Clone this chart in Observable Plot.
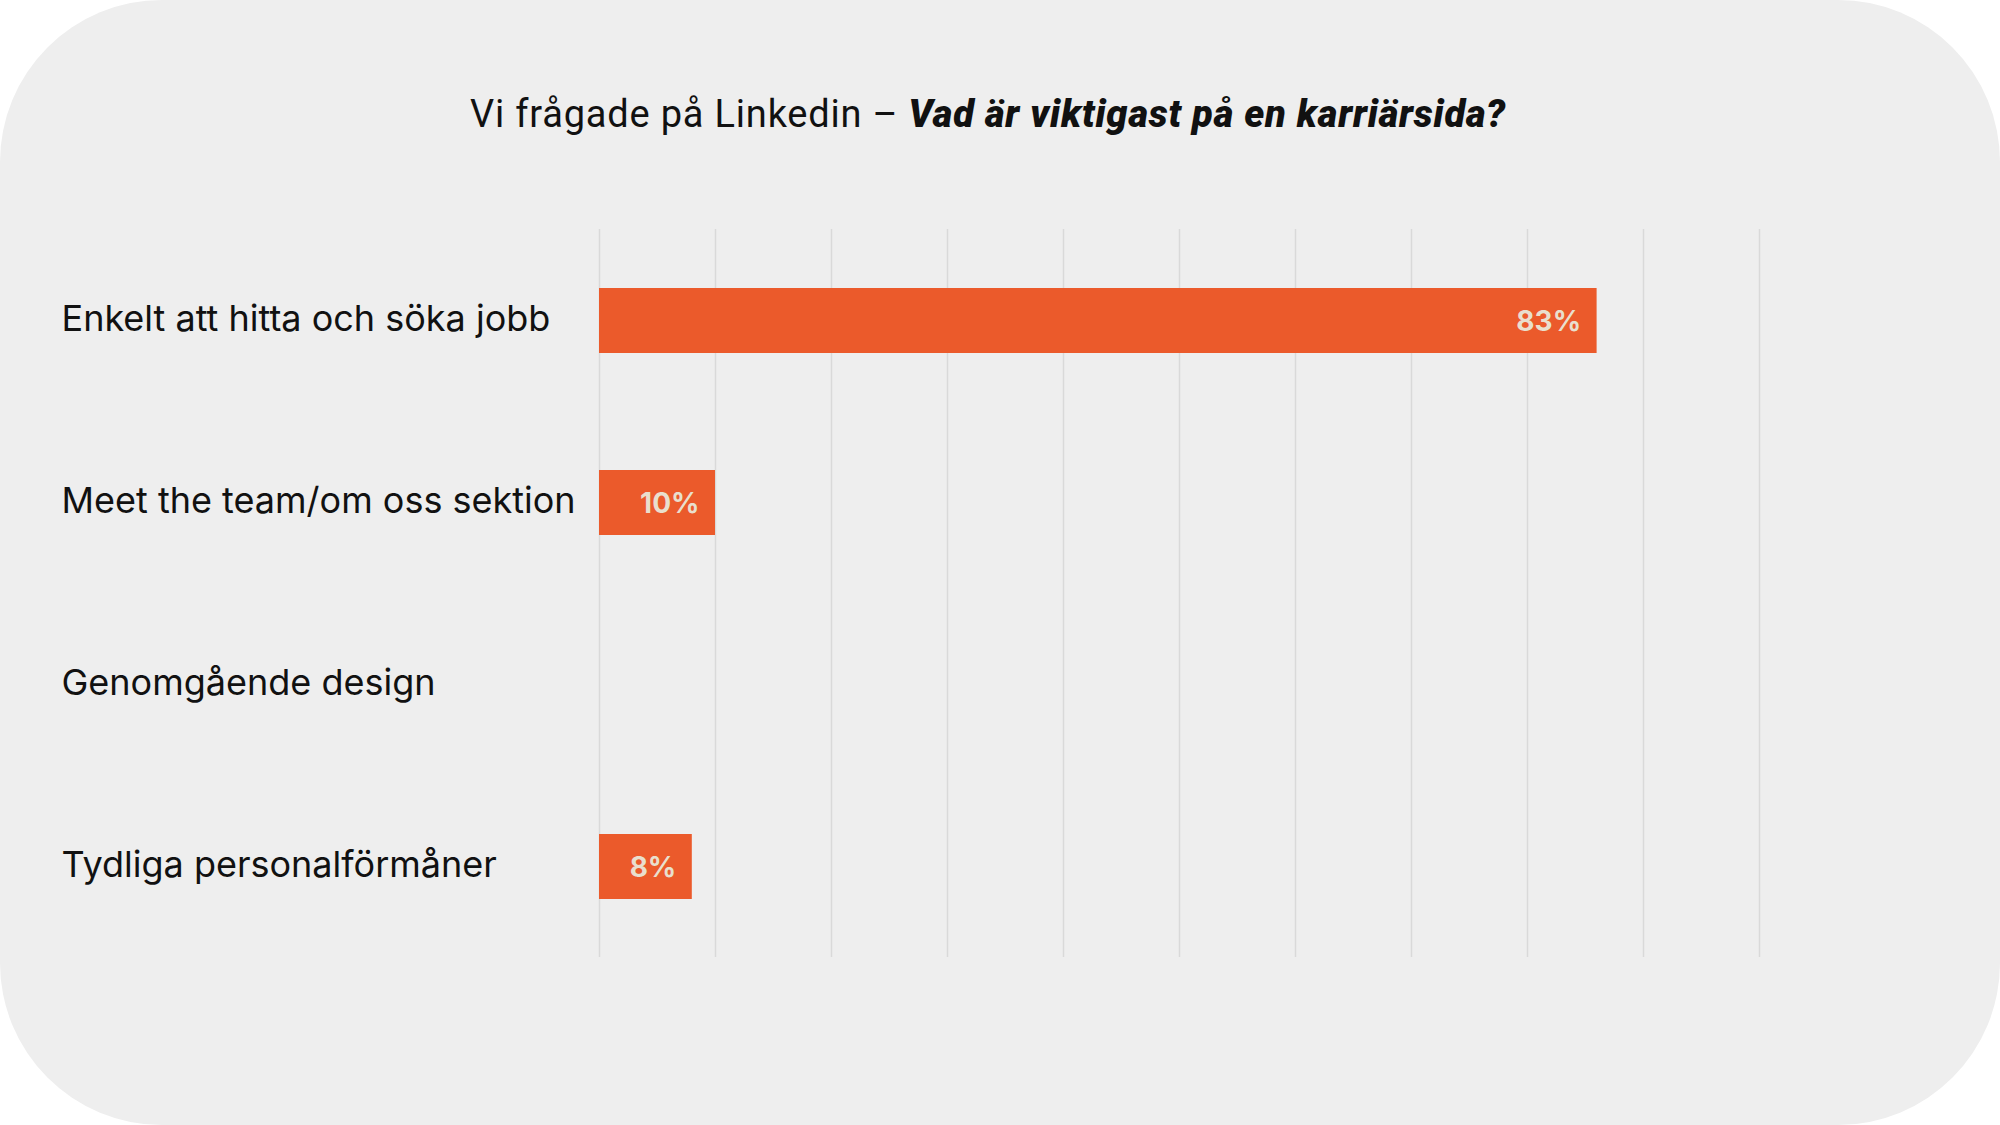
<!DOCTYPE html>
<html>
<head>
<meta charset="utf-8">
<script src="https://cdn.jsdelivr.net/npm/d3@7"></script>
<script src="https://cdn.jsdelivr.net/npm/@observablehq/plot@0.6"></script>
<style>
  html, body { margin: 0; padding: 0; background: #ffffff; }
  #card {
    position: relative;
    width: 2000px; height: 1125px;
    background: #eeeeee;
    border-radius: 162px;
    overflow: hidden;
  }
  #title {
    position: absolute; left: 0; right: 0; top: 92px;
    text-align: center;
    font-family: "Roboto", sans-serif;
    font-size: 38px;
    color: #111111;
    letter-spacing: 0.8px;
    padding-right: 24px;
  }
  #title b { font-weight: 900; font-style: italic; }
  #chart { position: absolute; left: 0; top: 0; }
</style>
</head>
<body>
<div id="card">
  <div id="chart"></div>
  <div id="title">Vi frågade på Linkedin – <b>Vad är viktigast på en karriärsida?</b></div>
</div>
<script>
const categories = [
  "Enkelt att hitta och söka jobb",
  "Meet the team/om oss sektion",
  "Genomgående design",
  "Tydliga personalförmåner"
];
// bar lengths as drawn in the picture (percent of axis)
const barValues = [86, 10, 0, 8];
// labels printed on the bars
const valueLabels = ["83%", "10%", "", "8%"];
const gridTicks = [0, 10, 20, 30, 40, 50, 60, 70, 80, 90, 100];

const data = categories.map((c, i) => ({category: c, value: barValues[i], label: valueLabels[i]}));

const chart = Plot.plot({
  width: 2000,
  height: 1125,
  marginLeft: 599,
  marginRight: 241,
  marginTop: 229,
  marginBottom: 168,
  style: {background: "transparent", overflow: "visible"},
  x: {domain: [0, 100], axis: null},
  y: {domain: categories, axis: null, paddingInner: 0.643, paddingOuter: 0.3215},
  marks: [
    Plot.ruleX(gridTicks, {x: d => d, stroke: "#d9d9d9", strokeWidth: 1.5}),
    Plot.barX(data.filter(d => d.value > 0), {x: "value", y: "category", fill: "#eb5a2b"}),
    Plot.text(data.filter(d => d.label), {
      x: "value", y: "category", text: "label",
      textAnchor: "end", dx: -16, dy: 1,
      fill: "#e9dfcd", fontSize: 28, fontWeight: 700,
      fontFamily: "Inter, sans-serif"
    }),
    Plot.text(data, {
      y: "category", text: "category",
      frameAnchor: "left", textAnchor: "start", dx: -538, dy: -2,
      fill: "#111111", fontSize: 36, fontFamily: "Inter, sans-serif"
    })
  ]
});
document.getElementById("chart").appendChild(chart);
</script>
</body>
</html>
